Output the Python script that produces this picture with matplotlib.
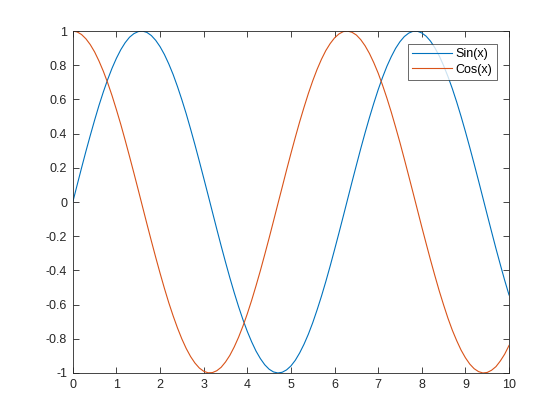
import numpy as np
import matplotlib
matplotlib.use("Agg")
import matplotlib.pyplot as plt

plt.rcParams['font.family'] = ['Liberation Sans', 'DejaVu Sans']

# values, x from 0 to 10 in steps of 0.1
x_vals = np.linspace(0, 10, 101)
sin_vals = [
    .000, .100, .199, .296, .389, .479, .565, .644, .717, .783,
    .841, .891, .932, .964, .985, .997, 1.000, .992, .974, .946,
    .909, .863, .808, .746, .675, .598, .516, .427, .335, .239,
    .141, .042, -.058, -.158, -.256, -.351, -.443, -.530, -.612, -.688,
    -.757, -.818, -.872, -.916, -.952, -.978, -.994, -1.000, -.996, -.982,
    -.959, -.926, -.883, -.832, -.773, -.706, -.631, -.551, -.465, -.374,
    -.279, -.182, -.083, .017, .117, .215, .312, .405, .494, .578,
    .657, .729, .794, .850, .899, .938, .968, .988, .999, .999,
    .989, .970, .941, .902, .855, .798, .734, .663, .585, .501,
    .412, .319, .223, .125, .025, -.075, -.174, -.272, -.366, -.458,
    -.544]
cos_vals = [
    1.000, .995, .980, .955, .921, .878, .825, .765, .697, .622,
    .540, .454, .362, .267, .170, .071, -.029, -.129, -.227, -.323,
    -.416, -.505, -.589, -.666, -.737, -.801, -.857, -.904, -.942, -.971,
    -.990, -.999, -.998, -.987, -.967, -.936, -.897, -.848, -.791, -.726,
    -.654, -.575, -.490, -.401, -.307, -.211, -.112, -.012, .087, .187,
    .284, .378, .469, .554, .635, .709, .776, .835, .886, .927,
    .960, .983, .997, 1.000, .993, .977, .950, .914, .869, .815,
    .754, .684, .608, .526, .438, .347, .251, .153, .054, -.046,
    -.146, -.243, -.339, -.431, -.520, -.602, -.680, -.750, -.811, -.866,
    -.911, -.948, -.975, -.992, -1.000, -.997, -.984, -.963, -.930, -.890,
    -.839]
labels = ["Sin(x)", "Cos(x)"]

fig = plt.figure(figsize=(5.6, 4.2), dpi=100)
ax = fig.add_axes([0.13, 0.112, 0.779, 0.814])

ax.plot(x_vals, sin_vals, color='#0072BD', lw=0.8, label=labels[0])
ax.plot(x_vals, cos_vals, color='#D95319', lw=0.8, label=labels[1])

ax.set_xlim(0, 10)
ax.set_ylim(-1, 1)
ax.set_xticks(range(0, 11))
ax.set_yticks(np.round(np.arange(-1, 1.01, 0.2), 1))
ax.set_yticklabels(['-1', '-0.8', '-0.6', '-0.4', '-0.2', '0', '0.2', '0.4', '0.6', '0.8', '1'])

ax.tick_params(direction='in', top=True, right=True, length=4, width=0.6,
               colors='#262626', labelsize=9, pad=4)
for s in ax.spines.values():
    s.set_linewidth(0.6)
    s.set_color('#262626')

leg = ax.legend(loc='upper right', fontsize=9, frameon=True, fancybox=False,
                edgecolor='#262626', handlelength=3.2, borderpad=0.35,
                labelspacing=0.3, handletextpad=0.25, borderaxespad=1.0)
leg.get_frame().set_linewidth(0.6)

fig.savefig("out.png", dpi=100)
